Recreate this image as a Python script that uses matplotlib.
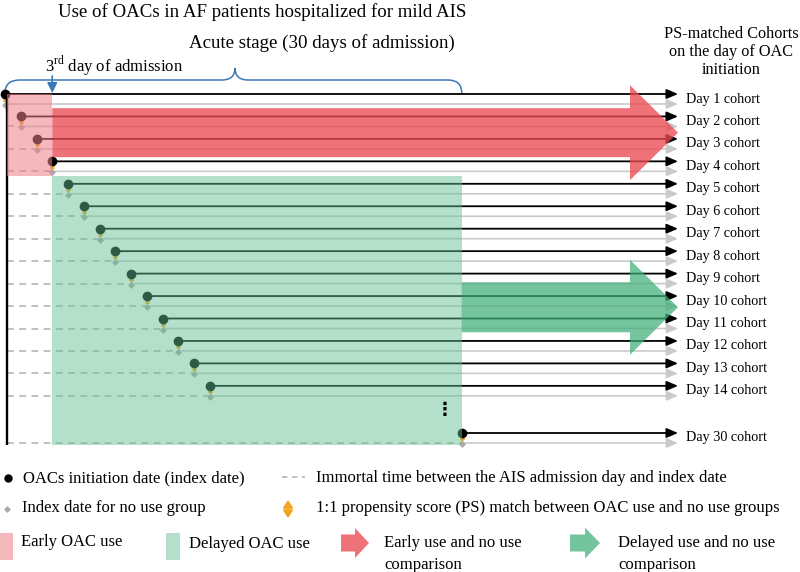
import matplotlib
matplotlib.use("Agg")
import matplotlib.pyplot as plt
from matplotlib.patches import Rectangle, FancyArrow, PathPatch
from matplotlib.path import Path

plt.rcParams['font.family'] = ['Liberation Serif', 'DejaVu Serif']
plt.rcParams['mathtext.fontset'] = 'custom'
plt.rcParams['mathtext.rm'] = 'Liberation Serif'

# ---------------- data ----------------
cohort_days = [1, 2, 3, 4, 5, 6, 7, 8, 9, 10, 11, 12, 13, 14, 30]
cohort_labels = ["Day 1 cohort", "Day 2 cohort", "Day 3 cohort", "Day 4 cohort",
                 "Day 5 cohort", "Day 6 cohort", "Day 7 cohort", "Day 8 cohort",
                 "Day 9 cohort", "Day 10 cohort", "Day 11 cohort", "Day 12 cohort",
                 "Day 13 cohort", "Day 14 cohort", "Day 30 cohort"]
early_days = [1, 2, 3, 4]
delayed_days = [5, 30]
early_arrow_days = [2, 3]
delayed_arrow_days = [10, 11]
acute_days = 30
third_day = 4

title_text = "Use of OACs in AF patients hospitalized for mild AIS"
acute_text = "Acute stage (30 days of admission)"
third_text = r"3$^{\mathrm{rd}}$ day of admission"
header_text = "PS-matched Cohorts\non the day of OAC\ninitiation"
leg_dot = "OACs initiation date (index date)"
leg_dash = "Immortal time between the AIS admission day and index date"
leg_diamond = "Index date for no use group"
leg_match = "1:1 propensity score (PS) match between OAC use and no use groups"
leg_early = "Early OAC use"
leg_delayed = "Delayed OAC use"
leg_early_cmp = "Early use and no use\ncomparison"
leg_delayed_cmp = "Delayed use and no use\ncomparison"

# ---------------- layout ----------------
X0, DX = 5.0, 15.75
XEND, LABEL_X = 678, 686
Y0, DY, GAP = 94.0, 22.45, 10.0
row_slot = [0, 1, 2, 3, 4, 5, 6, 7, 8, 9, 10, 11, 12, 13, 15.1]
VLINE_X = 7

def xd(d):
    return X0 + (d - 1) * DX

slot_of = dict(zip(cohort_days, row_slot))
def yd(d):
    return Y0 + slot_of[d] * DY

fig = plt.figure(figsize=(8.0, 5.72), dpi=100)
ax = fig.add_axes([0, 0, 1, 1])
ax.set_xlim(0, 800)
ax.set_ylim(572, 0)
ax.axis('off')

BLACK = '#000000'
GRAY = '#cacaca'
DASH = '#b0b0b0'
ORANGE = '#f2a31f'
DIAM = '#a9a9a9'
BLUE = '#3d78b6'

HEAD = '-|>,head_length=0.75,head_width=0.32'

# rows
for d, lab in zip(cohort_days, cohort_labels):
    x, y = xd(d), yd(d)
    yg = y + GAP
    if x > VLINE_X + 2:
        ax.plot([VLINE_X, x], [yg, yg], color=DASH, lw=1.1, dashes=(4.5, 3.5), zorder=2)
    ax.annotate('', xy=(XEND, yg), xytext=(x, yg),
                arrowprops=dict(arrowstyle=HEAD, color=GRAY, lw=1.2, shrinkA=0, shrinkB=0,
                                mutation_scale=9), zorder=2)
    ax.annotate('', xy=(XEND, y), xytext=(x, y),
                arrowprops=dict(arrowstyle=HEAD, color=BLACK, lw=1.3, shrinkA=0, shrinkB=0,
                                mutation_scale=9), zorder=3)
    ax.plot(x, y + 4.5, marker='^', ms=3.5, color=ORANGE, mec='none', zorder=3)
    ax.plot(x, y + 7.0, marker='v', ms=3.5, color=ORANGE, mec='none', zorder=3)
    ax.plot(x, yg + 1, marker='D', ms=3.5, color=DIAM, mec='none', zorder=3)
    ax.plot(x, y, marker='o', ms=6, color=BLACK, zorder=4)
    ax.text(LABEL_X, y + 5, lab, fontsize=10.2, va='center', ha='left')

# vertical admission line
ax.plot([VLINE_X, VLINE_X], [yd(1), yd(acute_days) + 12], color=BLACK, lw=1.7,
        zorder=4, solid_capstyle='butt')

# shaded regions (overlay)
early_top = yd(early_days[0])
early_bot = yd(early_days[-1]) + 15
ax.add_patch(Rectangle((VLINE_X, early_top), xd(third_day) - VLINE_X, early_bot - early_top,
                       facecolor='#ee7e86', alpha=0.55, lw=0, zorder=5))
del_bot = yd(delayed_days[-1]) + 12
ax.add_patch(Rectangle((xd(third_day), early_bot), xd(acute_days) - xd(third_day),
                       del_bot - early_bot, facecolor='#63c094', alpha=0.48, lw=0, zorder=5))

# big comparison arrows
ry = (yd(early_arrow_days[0]) + yd(early_arrow_days[1]) + GAP) / 2
ax.add_patch(FancyArrow(xd(third_day), ry, XEND - xd(third_day), 0, width=49,
                        head_width=95, head_length=48, length_includes_head=True,
                        facecolor='#ec4a53', alpha=0.78, lw=0, zorder=6))
gy = (yd(delayed_arrow_days[0]) + yd(delayed_arrow_days[1])) / 2
ax.add_patch(FancyArrow(xd(acute_days), gy, XEND - xd(acute_days), 0, width=50,
                        head_width=95, head_length=48, length_includes_head=True,
                        facecolor='#3fae78', alpha=0.72, lw=0, zorder=6))

# vertical ellipsis
ax.text(xd(acute_days) - 17, yd(14) + 24, '⋮', fontsize=13, ha='center', va='center',
        family='DejaVu Sans', fontweight='bold', zorder=7)

# brace
xl, xr = xd(1), xd(acute_days)
xm = 235
yb, yt, ypk = 93, 80, 68
verts = [(xl, yb), (xl, yt), (xl + 15, yt),
         (xm - 13, yt),
         (xm, yt), (xm, ypk),
         (xm, yt), (xm + 13, yt),
         (xr - 14, yt),
         (xr, yt), (xr, yb)]
codes = [Path.MOVETO, Path.CURVE3, Path.CURVE3,
         Path.LINETO,
         Path.CURVE3, Path.CURVE3,
         Path.CURVE3, Path.CURVE3,
         Path.LINETO,
         Path.CURVE3, Path.CURVE3]
ax.add_patch(PathPatch(Path(verts, codes), facecolor='none', edgecolor=BLUE, lw=1.1, zorder=3))

# 3rd day arrow
ax.annotate('', xy=(xd(third_day), 93), xytext=(xd(third_day), 76),
            arrowprops=dict(arrowstyle='-|>,head_length=0.5,head_width=0.25', color=BLUE,
                            lw=1.2, shrinkA=0, shrinkB=0, mutation_scale=12), zorder=4)

# titles
ax.text(262, 12, title_text, fontsize=13.6, ha='center', va='center')
ax.text(322, 43, acute_text, fontsize=13.6, ha='center', va='center')
ax.text(45, 66, third_text, fontsize=12, ha='left', va='center')
ax.text(731, 52, header_text, fontsize=11.7, ha='center', va='center', linespacing=1.2)

# legend
LEG = 12
ax.plot(8, 478, marker='o', ms=5, color=BLACK)
ax.text(23, 478, leg_dot, fontsize=LEG, va='center')
ax.plot([282, 305], [477, 477], color=DASH, lw=1.1, dashes=(3.5, 3))
ax.text(316, 478, leg_dash, fontsize=LEG, va='center')
ax.plot(7, 509, marker='D', ms=3.5, color=DIAM, mec='none')
ax.text(22, 508, leg_diamond, fontsize=LEG, va='center')
ax.annotate('', xy=(288, 518), xytext=(288, 500),
            arrowprops=dict(arrowstyle='<|-|>,head_length=0.45,head_width=0.3', color=ORANGE,
                            lw=1.3, shrinkA=0, shrinkB=0, mutation_scale=10))
ax.text(316, 508, leg_match, fontsize=LEG, va='center')
ax.add_patch(Rectangle((0, 533), 13, 27, facecolor='#ee7e86', alpha=0.55, lw=0))
ax.text(21, 542, leg_early, fontsize=LEG, va='center')
ax.add_patch(Rectangle((166, 533), 14, 27, facecolor='#63c094', alpha=0.48, lw=0))
ax.text(189, 544, leg_delayed, fontsize=LEG, va='center')
ax.add_patch(FancyArrow(341, 543, 28, 0, width=17, head_width=30, head_length=14,
                        length_includes_head=True, facecolor='#ec4a53', alpha=0.78, lw=0))
ax.text(384, 554, leg_early_cmp, fontsize=LEG, va='center', linespacing=1.45)
ax.add_patch(FancyArrow(570, 543, 30, 0, width=17, head_width=31, head_length=15,
                        length_includes_head=True, facecolor='#3fae78', alpha=0.72, lw=0))
ax.text(618, 554, leg_delayed_cmp, fontsize=LEG, va='center', linespacing=1.45)

fig.savefig('out.png', dpi=100)
